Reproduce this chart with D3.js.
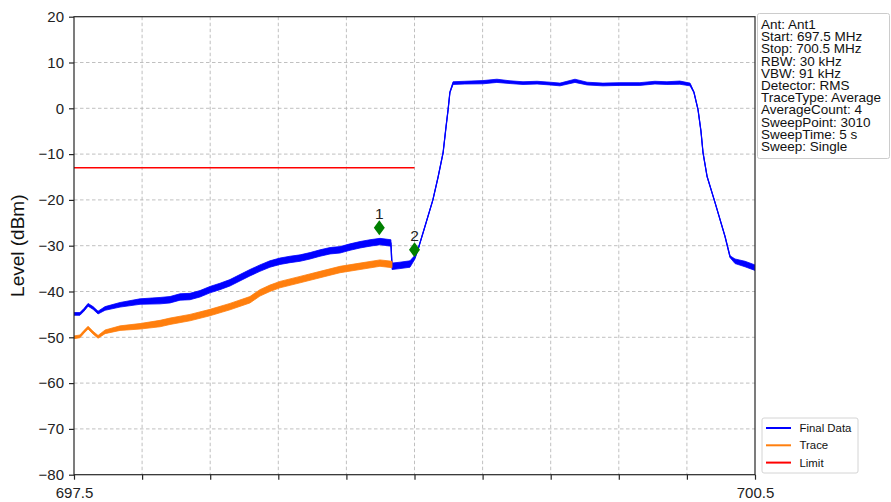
<!DOCTYPE html>
<html>
<head>
<meta charset="utf-8">
<script src="https://cdn.jsdelivr.net/npm/d3@7"></script>
<style>
  html, body { margin: 0; padding: 0; background: #fff; }
  svg { display: block; font-family: "Liberation Sans", Arial, sans-serif; }
</style>
</head>
<body>
<svg id="chart" width="891" height="502"></svg>
<script>
// ---- data (MHz, dBm) ----
const finalFreq = [697.500, 697.526, 697.544, 697.562, 697.584, 697.606, 697.637, 697.703, 697.791, 697.879,
  697.923, 697.967, 698.011, 698.055, 698.099, 698.143, 698.187, 698.231, 698.275, 698.319,
  698.363, 698.407, 698.452, 698.496, 698.540, 698.584, 698.628, 698.672, 698.716, 698.760,
  698.804, 698.848, 698.896, 698.901, 698.936, 698.980, 699.002, 699.015, 699.046, 699.081,
  699.104, 699.126, 699.139, 699.148, 699.156, 699.170, 699.222, 699.302, 699.363, 699.421,
  699.478, 699.540, 699.597, 699.641, 699.707, 699.760, 699.830, 699.905, 699.993, 700.059,
  700.112, 700.169, 700.214, 700.231, 700.249, 700.262, 700.271, 700.289, 700.324, 700.368,
  700.390, 700.412, 700.456, 700.500];
const finalLevel = [-44.9, -44.9, -44.0, -42.9, -43.6, -44.6, -43.7, -42.9, -42.2, -42.0,
  -41.8, -41.2, -41.1, -40.5, -39.6, -38.9, -38.1, -37.0, -35.9, -34.9,
  -34.0, -33.4, -33.0, -32.7, -32.2, -31.6, -31.1, -30.9, -30.3, -29.8,
  -29.4, -29.1, -29.4, -34.5, -34.3, -34.0, -32.5, -30.9, -25.8, -20.0,
  -15.0, -9.7, -4.0, -0.3, 3.5, 5.5, 5.6, 5.7, 6.0, 5.7,
  5.5, 5.6, 5.4, 5.2, 6.0, 5.4, 5.2, 5.3, 5.3, 5.6,
  5.5, 5.6, 5.2, 3.5, -0.3, -5.0, -9.7, -14.9, -20.6, -28.0,
  -32.4, -33.4, -34.0, -34.8];
const finalSpread = [0.3, 0.3, 0.3, 0.3, 0.3, 0.3, 0.4, 0.5, 0.6, 0.7,
  0.7, 0.7, 0.7, 0.7, 0.7, 0.7, 0.7, 0.7, 0.7, 0.7,
  0.7, 0.7, 0.7, 0.7, 0.7, 0.7, 0.7, 0.7, 0.7, 0.7,
  0.7, 0.7, 0.7, 0.7, 0.7, 0.7, 0.4, 0.1, 0.05, 0.05,
  0.05, 0.05, 0.05, 0.05, 0.1, 0.3, 0.3, 0.35, 0.35, 0.3,
  0.3, 0.3, 0.3, 0.3, 0.35, 0.3, 0.3, 0.3, 0.3, 0.3,
  0.3, 0.35, 0.3, 0.1, 0.05, 0.05, 0.05, 0.05, 0.05, 0.05,
  0.2, 0.5, 0.6, 0.6];

const traceFreq = [697.500, 697.526, 697.544, 697.562, 697.584, 697.606, 697.637, 697.703, 697.791, 697.879,
  697.923, 698.011, 698.099, 698.187, 698.275, 698.319, 698.363, 698.407, 698.496, 698.584,
  698.672, 698.760, 698.848, 698.901];
const traceLevel = [-50.0, -49.8, -48.8, -47.9, -49.0, -49.9, -48.8, -48.0, -47.6, -47.0,
  -46.5, -45.7, -44.6, -43.3, -41.8, -40.3, -39.3, -38.5, -37.4, -36.3,
  -35.2, -34.5, -33.8, -34.1];
const traceSpread = [0.3, 0.3, 0.3, 0.3, 0.3, 0.3, 0.4, 0.5, 0.6, 0.7,
  0.7, 0.7, 0.7, 0.7, 0.7, 0.7, 0.7, 0.7, 0.7, 0.7,
  0.7, 0.7, 0.7, 0.7];

const limitFreq = [697.5, 699.0];
const limitLevel = [-13, -13];

const markerNames = ["1", "2"];
const markerFreq = [698.845, 699.0];
const markerLevel = [-26.1, -30.9];

const xTicks = [697.5, 697.8, 698.1, 698.4, 698.7, 699.0, 699.3, 699.6, 699.9, 700.2, 700.5];
const xTickLabels = ["697.5", "", "", "", "", "", "", "", "", "", "700.5"];
const yTicks = [-80, -70, -60, -50, -40, -30, -20, -10, 0, 10, 20];

const infoLines = ["Ant: Ant1", "Start: 697.5 MHz", "Stop: 700.5 MHz", "RBW: 30 kHz", "VBW: 91 kHz",
  "Detector: RMS", "TraceType: Average", "AverageCount: 4", "SweepPoint: 3010", "SweepTime: 5 s", "Sweep: Single"];
const legendNames = ["Final Data", "Trace", "Limit"];
const legendColors = ["#0000ff", "#ff7f0e", "#ff0000"];

// ---- layout ----
const svg = d3.select("#chart");
const L = 74, R = 755, T = 16.7, B = 474.7;
const x = d3.scaleLinear().domain([697.5, 700.5]).range([L, R]);
const y = d3.scaleLinear().domain([-80, 20]).range([B, T]);

// grid
const grid = svg.append("g").attr("stroke", "#b0b0b0").attr("stroke-width", 0.8).attr("stroke-dasharray", "3.5,2.5");
grid.selectAll("line.v").data(xTicks.slice(1, -1)).join("line")
  .attr("x1", d => x(d)).attr("x2", d => x(d)).attr("y1", T).attr("y2", B);
grid.selectAll("line.h").data(yTicks.slice(1, -1)).join("line")
  .attr("x1", L).attr("x2", R).attr("y1", d => y(d)).attr("y2", d => y(d));

// clip
svg.append("clipPath").attr("id", "clip").append("rect").attr("x", L).attr("y", T).attr("width", R - L).attr("height", B - T);
const plot = svg.append("g").attr("clip-path", "url(#clip)");

function series(freq, level, spread, color) {
  const pts = freq.map((f, i) => ({ f, v: level[i], s: spread[i] }));
  plot.append("path").datum(pts)
    .attr("fill", color).attr("stroke", color).attr("stroke-width", 0.8)
    .attr("d", d3.area().x(d => x(d.f)).y0(d => y(d.v - d.s)).y1(d => y(d.v + d.s)));
  plot.append("path").datum(pts)
    .attr("fill", "none").attr("stroke", color).attr("stroke-width", 1.3)
    .attr("d", d3.line().x(d => x(d.f)).y(d => y(d.v)));
}
series(finalFreq, finalLevel, finalSpread, "#0000ff");
series(traceFreq, traceLevel, traceSpread, "#ff7f0e");

// limit
plot.append("path").datum(limitFreq.map((f, i) => [f, limitLevel[i]]))
  .attr("fill", "none").attr("stroke", "#ff0000").attr("stroke-width", 1.5)
  .attr("d", d3.line().x(d => x(d[0])).y(d => y(d[1])));

// markers
const mk = svg.append("g");
markerFreq.forEach((f, i) => {
  const cx = x(f), cy = y(markerLevel[i]);
  mk.append("path").attr("d", `M${cx},${cy - 7.5} L${cx + 5.5},${cy} L${cx},${cy + 7.5} L${cx - 5.5},${cy} Z`)
    .attr("fill", "#008000");
  mk.append("text").attr("x", cx).attr("y", cy - 8.5).attr("text-anchor", "middle")
    .attr("font-size", 15.5).attr("fill", "#222").text(markerNames[i]);
});

// frame
svg.append("rect").attr("x", L).attr("y", T).attr("width", R - L).attr("height", B - T)
  .attr("fill", "none").attr("stroke", "#262626").attr("stroke-width", 1.2);

// axes
const xAxis = svg.append("g").attr("transform", `translate(0,${B})`)
  .call(d3.axisBottom(x).tickValues(xTicks).tickFormat((d, i) => xTickLabels[i]).tickSize(5).tickPadding(8));
const yAxis = svg.append("g").attr("transform", `translate(${L},0)`)
  .call(d3.axisLeft(y).tickValues(yTicks).tickFormat(d => d < 0 ? "\u2212" + Math.abs(d) : d).tickSize(5).tickPadding(5));
[xAxis, yAxis].forEach(a => {
  a.select(".domain").remove();
  a.selectAll(".tick line").attr("stroke", "#262626").attr("stroke-width", 1.2);
  a.selectAll(".tick text").attr("fill", "#222").attr("font-size", 15).attr("font-family", "Liberation Sans, Arial, sans-serif");
});

// y label
svg.append("text").attr("transform", `translate(24,${(T + B) / 2}) rotate(-90)`)
  .attr("text-anchor", "middle").attr("font-size", 19).attr("fill", "#111").text("Level (dBm)");

// info box
const info = svg.append("g");
info.append("rect").attr("x", 757.5).attr("y", 13.5).attr("width", 132).attr("height", 145).attr("rx", 2)
  .attr("fill", "#fff").attr("stroke", "#cccccc").attr("stroke-width", 1);
info.selectAll("text").data(infoLines).join("text")
  .attr("x", 761).attr("y", (d, i) => 29 + i * 12.2)
  .attr("font-size", 13.5).attr("fill", "#111").text(d => d);

// legend
const leg = svg.append("g");
leg.append("rect").attr("x", 762).attr("y", 418).attr("width", 96).attr("height", 55).attr("rx", 2)
  .attr("fill", "#fff").attr("stroke", "#d4d4d4").attr("stroke-width", 1);
legendNames.forEach((n, i) => {
  const ly = 428 + i * 17.3;
  leg.append("line").attr("x1", 766).attr("x2", 791).attr("y1", ly).attr("y2", ly)
    .attr("stroke", legendColors[i]).attr("stroke-width", 2);
  leg.append("text").attr("x", 799.5).attr("y", ly + 4).attr("font-size", 11.4).attr("fill", "#111").text(n);
});
</script>
</body>
</html>
